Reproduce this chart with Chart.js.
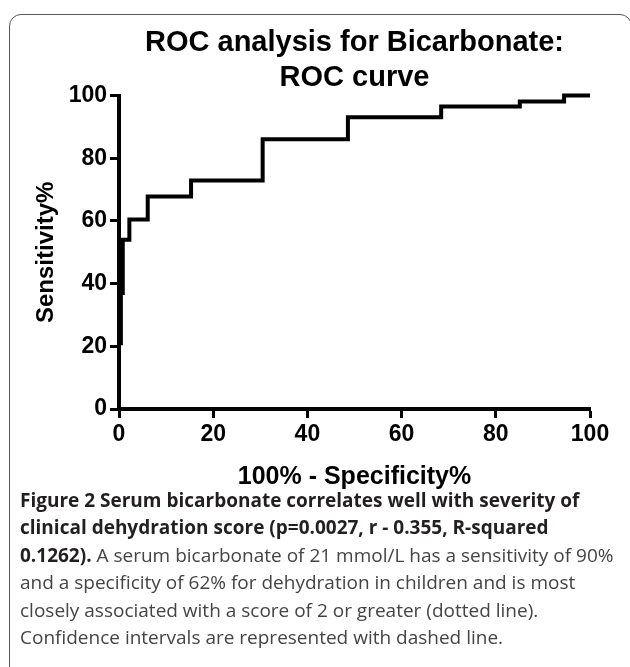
<!DOCTYPE html>
<html lang="en">
<head>
<meta charset="utf-8">
<title>ROC analysis for Bicarbonate</title>
<script src="https://cdn.jsdelivr.net/npm/chart.js@4.4.1/dist/chart.umd.min.js"></script>
<style>
    html, body { margin: 0; padding: 0; background: #fff; overflow: hidden; }
    body { width: 630px; height: 667px; position: relative; }
    .area-grafico { position: absolute; left: 0; top: 0; width: 630px; height: 500px; }
    .moldura {
        position: absolute; left: 9px; top: 14px; width: 621px; height: 700px;
        border: 1.5px solid #555; border-radius: 12px; pointer-events: none;
    }
    .legenda {
        position: absolute; left: 20px; top: 487px; width: 606px;
        font-family: "Open Sans", sans-serif; font-size: 19px; line-height: 27.4px; color: #444;
    }
    .legenda b { color: #231f20; font-weight: 700; }
</style>
</head>
<body>
<div class="area-grafico"><canvas id="graficoRoc"></canvas></div>
<div class="moldura"></div>
<div class="legenda">
    <b>Figure 2 Serum bicarbonate correlates well with severity of<br>
    clinical dehydration score (p=0.0027, r - 0.355, R-squared<br>
    0.1262).</b> A serum bicarbonate of 21 mmol/L has a sensitivity of 90%<br>
    and a specificity of 62% for dehydration in children and is most<br>
    closely associated with a score of 2 or greater (dotted line).<br>
    Confidence intervals are represented with dashed line.
</div>
<script>
// pontos da curva ROC (cantos dos degraus)
var umMenosEspecificidade = [0, 0, 0.4, 0.8, 2.2, 6.1, 15.3, 30.5, 48.6, 68.4, 85.1, 94.5, 100];
var sensibilidade = [0, 21, 37, 54, 60.5, 67.8, 72.9, 86.1, 93.1, 96.5, 98.1, 100, 100];

var ticksX = [0, 20, 40, 60, 80, 100];
var ticksY = [0, 20, 40, 60, 80, 100];

var tituloGrafico = ['ROC analysis for Bicarbonate:', 'ROC curve'];
var tituloX = '100% - Specificity%';
var tituloY = 'Sensitivity%';

document.addEventListener('DOMContentLoaded', function () {
    var canvas = document.getElementById('graficoRoc');
    if (!canvas || typeof Chart === 'undefined') {
        return;
    }
    Chart.defaults.font.family = '"Liberation Sans", Arial, sans-serif';
    Chart.defaults.color = '#000';

    var pontos = umMenosEspecificidade.map(function (x, i) {
        return { x: x, y: sensibilidade[i] };
    });

    function eixoComum(ticks) {
        return {
            type: 'linear', min: 0, max: 100,
            afterBuildTicks: function (escala) {
                escala.ticks = ticks.map(function (v) { return { value: v }; });
            },
            ticks: { font: { size: 23, weight: 'bold' }, color: '#000', padding: 3 },
            grid: { drawOnChartArea: false, drawTicks: true, tickLength: 9, tickWidth: 3, color: '#000' },
            border: { display: true, color: '#000', width: 4 }
        };
    }

    var eixoX = eixoComum(ticksX);
    eixoX.title = { display: true, text: tituloX, font: { size: 25, weight: 'bold' }, color: '#000', padding: { top: 0, bottom: 8 } };
    eixoX.afterFit = function (escala) { escala.height = 91; };

    var eixoY = eixoComum(ticksY);
    eixoY.title = { display: true, text: tituloY, font: { size: 24, weight: 'bold' }, color: '#000', padding: { top: 32, bottom: 0 } };
    eixoY.afterFit = function (escala) { escala.width = 119; };

    new Chart(canvas, {
        type: 'scatter',
        data: {
            datasets: [{
                // degrau: primeiro na horizontal, depois sobe
                data: pontos, showLine: true, stepped: 'before',
                borderColor: '#000', backgroundColor: '#000', borderWidth: 4,
                pointRadius: 0, borderJoinStyle: 'miter', borderCapStyle: 'butt', clip: false
            }]
        },
        options: {
            responsive: true, maintainAspectRatio: false, animation: false, devicePixelRatio: 1,
            layout: { padding: { left: 0, right: 40, top: 26, bottom: 0 } },
            plugins: {
                legend: { display: false },
                tooltip: { enabled: false },
                title: {
                    display: true, fullSize: false, text: tituloGrafico, color: '#000',
                    font: { size: 29, weight: 'bold', lineHeight: 1.2 }, padding: { top: 0, bottom: 0 }
                }
            },
            scales: { x: eixoX, y: eixoY }
        }
    });
});
</script>
</body>
</html>
